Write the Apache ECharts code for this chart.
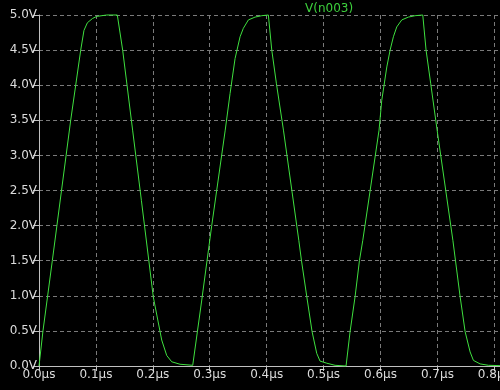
<!DOCTYPE html>
<html>
<head>
<meta charset="utf-8">
<script src="https://cdn.jsdelivr.net/npm/echarts@6/dist/echarts.min.js"></script>
<style>
html,body{margin:0;padding:0;background:#000;}
#c{width:500px;height:390px;}
</style>
</head>
<body>
<div id="c"></div>
<script>
// Trace name
var traceName = 'V(n003)';
// time in microseconds
var timeUs = [
  0, 0.007, 0.0234, 0.0557, 0.0733, 0.079, 0.085, 0.094, 0.1014, 0.119, 0.1376,
  0.147, 0.1645, 0.1799, 0.2009, 0.2156, 0.2244, 0.2332, 0.2478, 0.2701,
  0.286, 0.3035, 0.3272, 0.3357, 0.3445, 0.3533, 0.359, 0.3679, 0.3796, 0.3914, 0.403,
  0.409, 0.4172, 0.4295, 0.4565, 0.4612, 0.4705, 0.4798, 0.488, 0.4938, 0.5056, 0.5202, 0.5395,
  0.5466, 0.5554, 0.563, 0.5689, 0.5975, 0.6022, 0.6111, 0.6169, 0.6227, 0.6286, 0.6374, 0.649, 0.6608, 0.6743,
  0.6801, 0.6883, 0.6995, 0.7272, 0.7318, 0.7399, 0.7487, 0.7575, 0.7633, 0.775, 0.7897, 0.81
];
// voltage in volts
var voltage = [
  0, 0.5, 1.5, 3.5, 4.5, 4.78, 4.89, 4.95, 4.98, 5.0, 5.0,
  4.5, 3.36, 2.36, 0.98, 0.37, 0.15, 0.06, 0.025, 0.01,
  0.94, 2.0, 3.36, 3.88, 4.38, 4.69, 4.81, 4.93, 4.97, 4.99, 5.0,
  4.5, 4.02, 3.36, 1.79, 1.5, 0.99, 0.49, 0.18, 0.07, 0.04, 0.01, 0.0,
  0.49, 0.99, 1.5, 1.79, 3.36, 3.78, 4.26, 4.5, 4.69, 4.83, 4.93, 4.97, 4.99, 5.0,
  4.5, 4.02, 3.36, 1.79, 1.5, 0.99, 0.49, 0.2, 0.08, 0.03, 0.01, 0.005
];
// axis ticks
var xTicks = [0, 0.1, 0.2, 0.3, 0.4, 0.5, 0.6, 0.7, 0.8];
var yTicks = [0, 0.5, 1.0, 1.5, 2.0, 2.5, 3.0, 3.5, 4.0, 4.5, 5.0];

var pts = timeUs.map(function (t, i) { return [t, voltage[i]]; });

var labelFont = { color: '#dcdcdc', fontFamily: 'DejaVu Sans', fontSize: 12 };
var gridLine = { show: true, lineStyle: { color: '#7a7a7a', type: [4, 3], width: 1 } };

var chart = echarts.init(document.getElementById('c'), null, { renderer: 'canvas' });
chart.setOption({
  backgroundColor: '#000',
  animation: false,
  title: {
    text: traceName, left: 300, top: -2,
    textStyle: { color: '#3cd03c', fontFamily: 'DejaVu Sans', fontSize: 12, fontWeight: 'normal' }
  },
  grid: { left: 39, right: 0, top: 15, bottom: 24, containLabel: false, outerBoundsMode: 'none' },
  xAxis: [{
    type: 'value', min: 0, max: 0.81, interval: 0.1,
    axisLine: { show: true, onZero: false, lineStyle: { color: '#c0c0c0', width: 1 } },
    axisTick: { show: true, length: 5, lineStyle: { color: '#c0c0c0' } },
    axisLabel: Object.assign({
      margin: 3, hideOverlap: false,
      formatter: function (v) {
        for (var i = 0; i < xTicks.length; i++) {
          if (Math.abs(v - xTicks[i]) < 1e-6) return xTicks[i].toFixed(1) + 'µs';
        }
        return '';
      }
    }, labelFont),
    splitLine: gridLine
  }, {
    type: 'value', position: 'top', min: 0, max: 0.81,
    axisLine: { show: true, lineStyle: { color: '#c0c0c0', width: 1 } },
    axisTick: { show: false }, axisLabel: { show: false }, splitLine: { show: false }
  }],
  yAxis: {
    type: 'value', min: 0, max: 5, interval: 0.5,
    axisLine: { show: true, lineStyle: { color: '#c0c0c0', width: 1 } },
    axisTick: { show: true, length: 6, lineStyle: { color: '#c0c0c0' } },
    axisLabel: Object.assign({
      margin: 2,
      formatter: function (v) { return v.toFixed(1) + 'V'; }
    }, labelFont),
    splitLine: gridLine
  },
  series: [{
    type: 'line', data: pts, xAxisIndex: 0,
    showSymbol: false, clip: false,
    lineStyle: { color: '#3fe03f', width: 1 },
    z: 5
  }]
});
</script>
</body>
</html>
